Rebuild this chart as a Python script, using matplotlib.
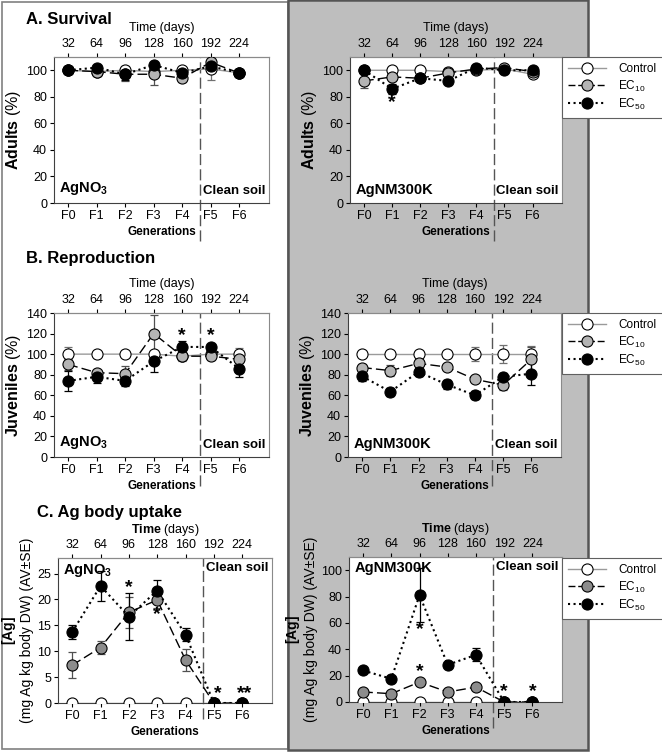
import numpy as np
import matplotlib
matplotlib.use("Agg")
import matplotlib.pyplot as plt
from matplotlib.lines import Line2D
from matplotlib.patches import Rectangle

plt.rcParams['font.family'] = ['Liberation Sans', 'DejaVu Sans']
plt.rcParams['mathtext.fontset'] = 'custom'
plt.rcParams['mathtext.rm'] = 'Liberation Sans'
plt.rcParams['mathtext.it'] = 'Liberation Sans:italic'
plt.rcParams['mathtext.bf'] = 'Liberation Sans:bold'

W, H = 662, 752

gens = ["F0", "F1", "F2", "F3", "F4", "F5", "F6"]
days = ["32", "64", "96", "128", "160", "192", "224"]

# A. Survival (adults %)
surv_no3_ctrl = [100, 99, 100, 99, 100, 101, 98]
surv_no3_ctrl_err = [1, 2, 3, 2, 2, 8, 1]
surv_no3_ec10 = [100, 99, 97, 97, 94, 106, 98]
surv_no3_ec10_err = [1, 3, 5, 8, 3, 3, 1]
surv_no3_ec50 = [100, 102, 97, 104, 98, 103, 98]
surv_no3_ec50_err = [1, 1, 4, 1, 1, 1, 1]

surv_nm_ctrl = [100, 100, 100, 99, 100, 101, 97]
surv_nm_ctrl_err = [1, 1, 1, 3, 1, 2, 1]
surv_nm_ec10 = [92, 95, 94, 98, 101, 102, 99]
surv_nm_ec10_err = [5, 3, 1, 3, 1, 2, 1]
surv_nm_ec50 = [100, 86, 94, 92, 102, 100, 100]
surv_nm_ec50_err = [1, 4, 1, 1, 1, 1, 1]

# B. Reproduction (juveniles %)
repr_no3_ctrl = [100, 100, 100, 100, 98, 100, 100]
repr_no3_ctrl_err = [7, 1, 1, 1, 5, 5, 6]
repr_no3_ec10 = [90, 82, 81, 120, 98, 98, 95]
repr_no3_ec10_err = [5, 3, 7, 18, 4, 4, 4]
repr_no3_ec50 = [74, 78, 74, 93, 107, 107, 86]
repr_no3_ec50_err = [10, 6, 5, 10, 6, 3, 8]

repr_nm_ctrl = [100, 100, 100, 100, 100, 100, 100]
repr_nm_ctrl_err = [1, 1, 1, 1, 7, 9, 8]
repr_nm_ec10 = [87, 84, 91, 87.5, 75.5, 70, 95]
repr_nm_ec10_err = [3, 5, 4, 2, 2, 5, 12]
repr_nm_ec50 = [78.5, 63.5, 82.7, 70.5, 60, 78, 81]
repr_nm_ec50_err = [5, 4, 4, 4, 4, 4, 11]

# C. Ag body uptake (mg Ag/kg)
ag_no3_ctrl = [0, 0, 0, 0, 0, 0, 0]
ag_no3_ec10 = [7.3, 10.7, 17.5, 19.9, 8.3, 0, 0]
ag_no3_ec10_err = [2.5, 1.2, 3.0, 1.5, 2.2, 0, 0]
ag_no3_ec50 = [13.7, 22.6, 16.7, 21.7, 13.2, 0, 0]
ag_no3_ec50_err = [1.3, 2.9, 4.5, 2.0, 1.3, 0, 0]

ag_nm_ctrl = [0, 0, 0, 0, 0, 0, 0]
ag_nm_ec10 = [7.6, 6.3, 15.1, 7.6, 11.3, 0, 0]
ag_nm_ec10_err = [1.5, 1.5, 2.0, 1.5, 1.5, 0, 0]
ag_nm_ec50 = [23.9, 17.6, 81.1, 28.2, 35.8, 0, 0]
ag_nm_ec50_err = [2.0, 2.5, 20.5, 1.5, 5.0, 0, 0]

# significance stars: (generation index, y, text)
stars_surv_nm = [(1, 76, "*")]
stars_repr_no3 = [(4, 118, "*"), (5, 118, "*")]
stars_ag_no3 = [(2, 22.3, "*"), (3, 17.0, "*"), (5.12, 1.9, "*"), (6.1, 1.9, "**")]
stars_ag_nm = [(2, 55, "*"), (2, 23, "*"), (5, 8, "*"), (6, 8, "*")]


def px(x0, y0, x1, y1):
    return [x0 / W, 1 - y1 / H, (x1 - x0) / W, (y1 - y0) / H]


fig = plt.figure(figsize=(W / 100, H / 100), dpi=100)

# panel backgrounds
fig.patches.append(Rectangle((2 / W, 1 - 749 / H), 286 / W, 747 / H, transform=fig.transFigure,
                             facecolor="white", edgecolor="#808080", lw=1.2, zorder=-5))
fig.patches.append(Rectangle((288 / W, 1 - 750 / H), 300 / W, 750 / H, transform=fig.transFigure,
                             facecolor="#bebebe", edgecolor="#555555", lw=1.8, zorder=-5))


def draw_panel(ax, ctrl, ec10, ec50, errs, ylim, yticks, ylabel, gray, dash_ext, ylsize=11.5):
    x = np.arange(7)
    c_err, e10_err, e50_err = errs
    ax.set_facecolor("white")
    if c_err is not None:
        ax.errorbar(x, ctrl, yerr=c_err, fmt="none", ecolor="#707070", elinewidth=0.9,
                    capsize=3, capthick=0.9, zorder=2)
    ax.errorbar(x, ec10, yerr=e10_err, fmt="none", ecolor="#505050", elinewidth=0.9,
                capsize=3, capthick=0.9, zorder=2)
    ax.errorbar(x, ec50, yerr=e50_err, fmt="none", ecolor="black", elinewidth=0.9,
                capsize=3, capthick=0.9, zorder=2)
    ax.plot(x, ctrl, "-", color="#9a9a9a", lw=1.0, marker="o", ms=8, mfc="white",
            mec="black", mew=0.8, zorder=3)
    ax.plot(x, ec10, color="black", lw=1.0, dashes=(7, 3), marker="o", ms=8, mfc=gray,
            mec="black", mew=0.8, zorder=4)
    ax.plot(x, ec50, ":", color="black", lw=1.5, marker="o", ms=8, mfc="black",
            mec="black", mew=0.8, zorder=5)
    ax.set_xlim(-0.5, 7.05)
    ax.set_ylim(*ylim)
    ax.set_yticks(yticks)
    ax.set_xticks(x, gens)
    ax.tick_params(labelsize=9, length=3, width=0.8, pad=2, colors="black")
    for s in ["top", "right"]:
        ax.spines[s].set_color("#8a8a8a")
    for s in ["left", "bottom"]:
        ax.spines[s].set_color("#404040")
    ax.set_ylabel(ylabel, fontsize=ylsize, labelpad=2)
    ax.set_xlabel("Generations", fontsize=8.5, fontweight="bold", labelpad=3)
    ax.axvline(4.62, ymin=dash_ext, ymax=1, color="#555555", lw=1.0, dashes=(8, 3),
               clip_on=False, zorder=1)
    top = ax.secondary_xaxis("top")
    top.set_xticks(x, days)
    top.tick_params(labelsize=9, length=3, width=0.8, pad=2)
    top.spines["top"].set_color("#8a8a8a")
    return top


def add_stars(ax, stars):
    for gx, gy, s in stars:
        ax.text(gx, gy, s, ha="center", va="center", fontsize=14, fontweight="bold", zorder=6)


gray_ab = "#b4b4b4"
gray_c = "#8c8c8c"

# ---- Row A
axA1 = fig.add_axes(px(54, 57, 269, 203))
t = draw_panel(axA1, surv_no3_ctrl, surv_no3_ec10, surv_no3_ec50,
               (surv_no3_ctrl_err, surv_no3_ec10_err, surv_no3_ec50_err),
               (0, 110), range(0, 101, 20), r"$\mathbf{Adults}$ (%)", gray_ab, -0.26)
t.set_xlabel("Time (days)", fontsize=9, labelpad=5)
axA2 = fig.add_axes(px(350, 57, 562, 203))
t = draw_panel(axA2, surv_nm_ctrl, surv_nm_ec10, surv_nm_ec50,
               (surv_nm_ctrl_err, surv_nm_ec10_err, surv_nm_ec50_err),
               (0, 110), range(0, 101, 20), r"$\mathbf{Adults}$ (%)", gray_ab, -0.26)
t.set_xlabel("Time (days)", fontsize=9, labelpad=5)
add_stars(axA2, stars_surv_nm)

# ---- Row B
axB1 = fig.add_axes(px(54, 313, 269, 457))
t = draw_panel(axB1, repr_no3_ctrl, repr_no3_ec10, repr_no3_ec50,
               (repr_no3_ctrl_err, repr_no3_ec10_err, repr_no3_ec50_err),
               (0, 140), range(0, 141, 20), r"$\mathbf{Juveniles}$ (%)", gray_ab, -0.2)
t.set_xlabel("Time (days)", fontsize=9, labelpad=5)
add_stars(axB1, stars_repr_no3)
axB2 = fig.add_axes(px(348, 313, 561, 457))
t = draw_panel(axB2, repr_nm_ctrl, repr_nm_ec10, repr_nm_ec50,
               (repr_nm_ctrl_err, repr_nm_ec10_err, repr_nm_ec50_err),
               (0, 140), range(0, 141, 20), r"$\mathbf{Juveniles}$ (%)", gray_ab, -0.2)
t.set_xlabel("Time (days)", fontsize=9, labelpad=5)

# ---- Row C
ag_label = r"$\mathbf{[Ag]}$" + "\n(mg Ag kg body DW) (AV±SE)"
axC1 = fig.add_axes(px(58, 558, 272, 703))
t = draw_panel(axC1, ag_no3_ctrl, ag_no3_ec10, ag_no3_ec50,
               (None, ag_no3_ec10_err, ag_no3_ec50_err),
               (0, 28), range(0, 26, 5), ag_label, gray_c, -0.11, ylsize=10)
t.set_xlabel(r"$\mathbf{Time}$ (days)", fontsize=9, labelpad=4)
add_stars(axC1, stars_ag_no3)
axC2 = fig.add_axes(px(349, 557, 562, 702))
t = draw_panel(axC2, ag_nm_ctrl, ag_nm_ec10, ag_nm_ec50,
               (None, ag_nm_ec10_err, ag_nm_ec50_err),
               (0, 110), range(0, 101, 20), ag_label, gray_c, -0.18, ylsize=10)
t.set_xlabel(r"$\mathbf{Time}$ (days)", fontsize=9, labelpad=4)
add_stars(axC2, stars_ag_nm)

# inner labels
for ax, name, top in [(axA1, r"$\mathbf{AgNO_3}$", False), (axA2, "AgNM300K", False),
                      (axB1, r"$\mathbf{AgNO_3}$", False), (axB2, "AgNM300K", False),
                      (axC1, r"$\mathbf{AgNO_3}$", True), (axC2, "AgNM300K", True)]:
    yy = 0.97 if top else 0.04
    va = "top" if top else "bottom"
    ax.text(0.025, yy, name, transform=ax.transAxes, fontsize=10.5, fontweight="bold",
            ha="left", va=va, zorder=7)
    ax.text(0.985, yy, "Clean soil", transform=ax.transAxes, fontsize=9.5, fontweight="bold",
            ha="right", va=va, zorder=7)

# panel titles
fig.text(26 / W, 1 - 20 / H, "A. Survival", fontsize=12, fontweight="bold", va="center")
fig.text(26 / W, 1 - 259 / H, "B. Reproduction", fontsize=12, fontweight="bold", va="center")
fig.text(37 / W, 1 - 512 / H, "C. Ag body uptake", fontsize=12, fontweight="bold", va="center")

# legends
labels = ["Control", r"EC$_{10}$", r"EC$_{50}$"]
for ytop, gcol in [(57, gray_ab), (313, gray_ab), (558, gray_c)]:
    hs = [
        Line2D([], [], color="#9a9a9a", lw=1.0, marker="o", ms=8, mfc="white", mec="black", mew=0.8),
        Line2D([], [], color="black", lw=1.0, dashes=(5, 2), marker="o", ms=8, mfc=gcol,
               mec="black", mew=0.8),
        Line2D([], [], color="black", lw=1.5, ls=":", marker="o", ms=8, mfc="black", mec="black", mew=0.8),
    ]
    leg = fig.legend(hs, labels, loc="upper left", bbox_to_anchor=(562 / W, 1 - ytop / H),
                     borderaxespad=0, fontsize=8.5, frameon=True, fancybox=False, framealpha=1,
                     handlelength=3.2, handletextpad=1.0, labelspacing=0.25,
                     borderpad=0.55, edgecolor="#606060")
    leg.get_frame().set_linewidth(0.8)

fig.savefig("out.png", dpi=100)
